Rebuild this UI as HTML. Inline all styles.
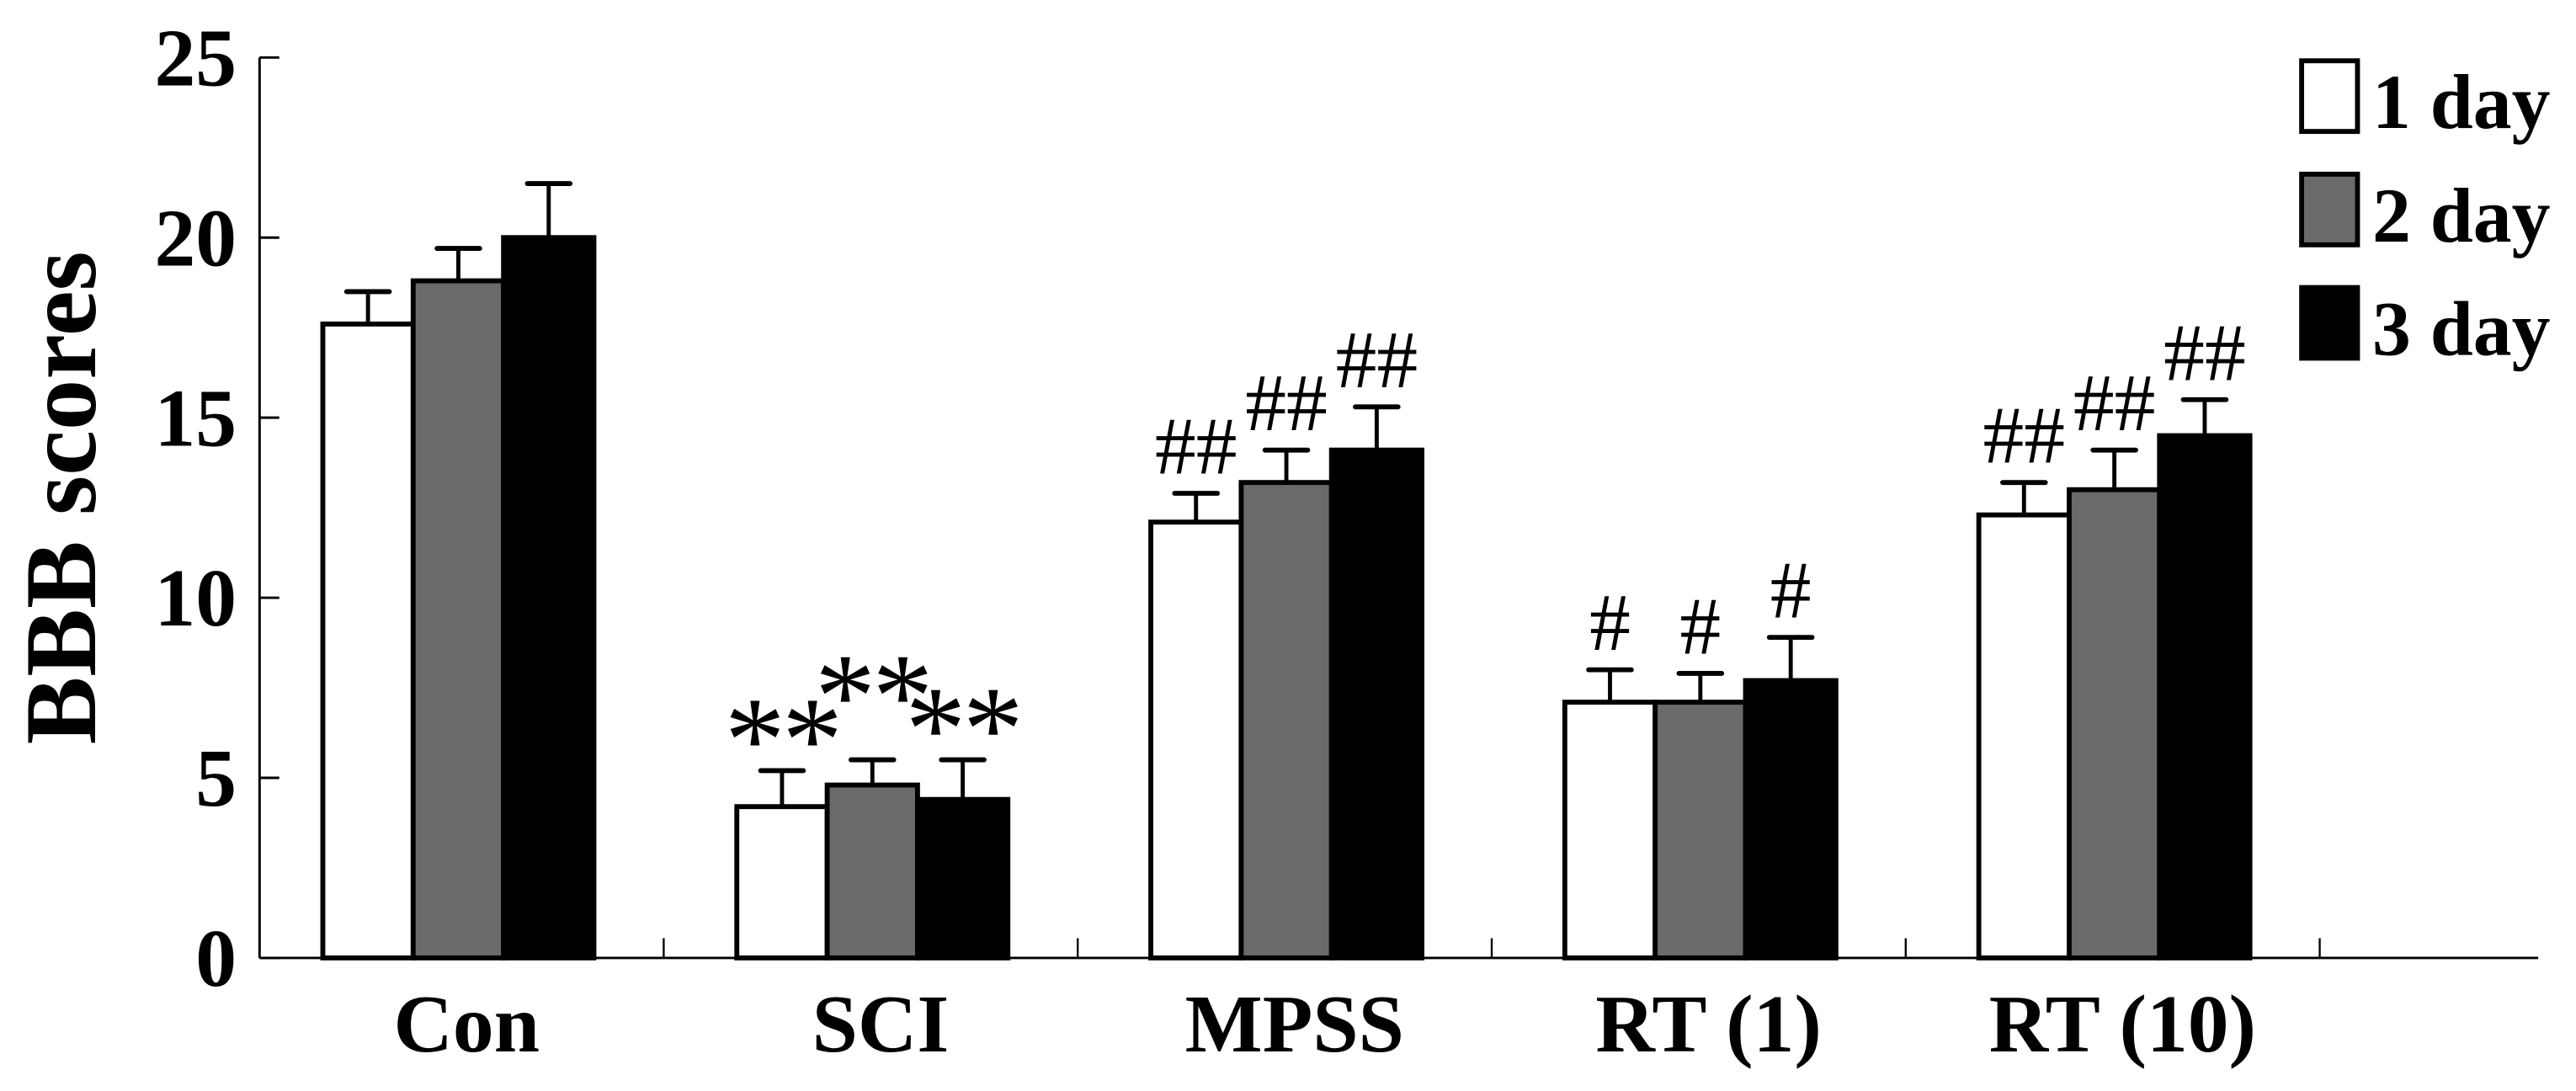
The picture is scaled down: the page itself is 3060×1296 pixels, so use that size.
<!DOCTYPE html>
<html><head><meta charset="utf-8"><style>
html,body{margin:0;padding:0;background:#fff;}
svg{display:block;}
text{font-family:"Liberation Serif",serif;}
</style></head><body>
<svg id="chart" width="3060" height="1296" viewBox="0 0 1568 664" preserveAspectRatio="none" xmlns="http://www.w3.org/2000/svg">
<g id="axes"></g>
<g id="bars"></g>
<g id="legend"></g>
</svg>
<script>
const categories = ["Con","SCI","MPSS","RT (1)","RT (10)"];
const day1 = [17.6, 4.2, 12.1, 7.1, 12.3];
const day2 = [18.8, 4.8, 13.2, 7.1, 13.0];
const day3 = [20.0, 4.4, 14.1, 7.7, 14.5];
const err1 = [0.9, 1.0, 0.8, 0.9, 0.9];
const err2 = [0.9, 0.7, 0.9, 0.8, 1.1];
const err3 = [1.5, 1.1, 1.2, 1.2, 1.0];
const marks1 = ["", "**", "##", "#", "##"];
const marks2 = ["", "**", "##", "#", "##"];
const marks3 = ["", "**", "##", "#", "##"];
const yTicks = [0,5,10,15,20,25];
const seriesNames = ["1 day","2 day","3 day"];

const NS="http://www.w3.org/2000/svg";
const x0=158, x1=1545, yBase=583, yTop=35, yMax=25;
const y=v=>yBase-(v/yMax)*(yBase-yTop);
const groupW=252, firstCenter=279, barW=55;
const gx=i=>firstCenter+i*groupW;
function mk(tag,attrs,parent){const e=document.createElementNS(NS,tag);for(const k in attrs)e.setAttribute(k,attrs[k]);parent.appendChild(e);return e;}
const axes=document.getElementById('axes'), bars=document.getElementById('bars'), legend=document.getElementById('legend');

let a=mk('line',{x1:x0,y1:yTop,x2:x0,y2:yBase,stroke:'#000','stroke-width':1.5},axes);


a=mk('line',{x1:x0,y1:yBase,x2:x1,y2:yBase,stroke:'#000','stroke-width':1.5},axes);


yTicks.forEach(t=>{
  let l=mk('line',{x1:x0,y1:y(t),x2:x0+12,y2:y(t),stroke:'#000','stroke-width':1.5},axes);
  
  
  let tx=mk('text',{x:x0-14,y:y(t)+17,'text-anchor':'end','font-size':50,'font-weight':'bold'},axes);
  tx.textContent=t;
  
  
});
for(let i=0;i<categories.length;i++){
  const bx=gx(i)+groupW/2-1;
  if(bx<x1){let l=mk('line',{x1:bx,y1:yBase,x2:bx,y2:yBase-12,stroke:'#000','stroke-width':1.2},axes);
  
  }
  let tx=mk('text',{x:gx(i)+5,y:yBase+57,'text-anchor':'middle','font-size':50,'font-weight':'bold'},axes);
  tx.textContent=categories[i];
  
  
}
let yt=mk('text',{x:0,y:0,'text-anchor':'middle','font-size':62,'font-weight':'bold',transform:'translate(58,303) rotate(-90)'},axes);
yt.textContent='BBB scores';



const series=[[day1,err1,marks1,'#fff'],[day2,err2,marks2,'#6a6a6a'],[day3,err3,marks3,'#000']];
series.forEach((s,si)=>{
  const [vals,errs,marks,fill]=s;
  vals.forEach((v,i)=>{
    const left=gx(i)-1.5*barW+si*barW;
    const cx=left+barW/2;
    const et=y(v+errs[i]);
    let e=mk('line',{x1:cx,y1:y(v),x2:cx,y2:et,stroke:'#000','stroke-width':2.5},bars);
    
    
    e=mk('line',{x1:cx-13,y1:et,x2:cx+13,y2:et,stroke:'#000','stroke-width':3,'stroke-linecap':'round'},bars);
    
    
    let r=mk('rect',{x:left,y:y(v),width:barW,height:yBase-y(v),fill:fill,stroke:'#000','stroke-width':3},bars);
    
    
    if(marks[i]){
      const isStar=marks[i].indexOf('*')>=0;
      const lift=(isStar&&si===1)?20:0;
      let t=mk('text',{x:cx,y:isStar?et+6-lift:et-12,'text-anchor':'middle','font-size':isStar?74:50,'letter-spacing':isStar?-2:0},bars);
      t.textContent=marks[i];
      
      
    }
  });
});
const legFill=['#fff','#6a6a6a','#000'];
seriesNames.forEach((n,i)=>{
  const ly=37+i*69;
  let r=mk('rect',{x:1401,y:ly,width:34,height:43,fill:legFill[i],stroke:'#000','stroke-width':3},legend);
  
  
  let t=mk('text',{x:1444,y:ly+41,'font-size':47,'font-weight':'bold'},legend);
  t.textContent=n;
  
  
});
</script>
</body></html>
